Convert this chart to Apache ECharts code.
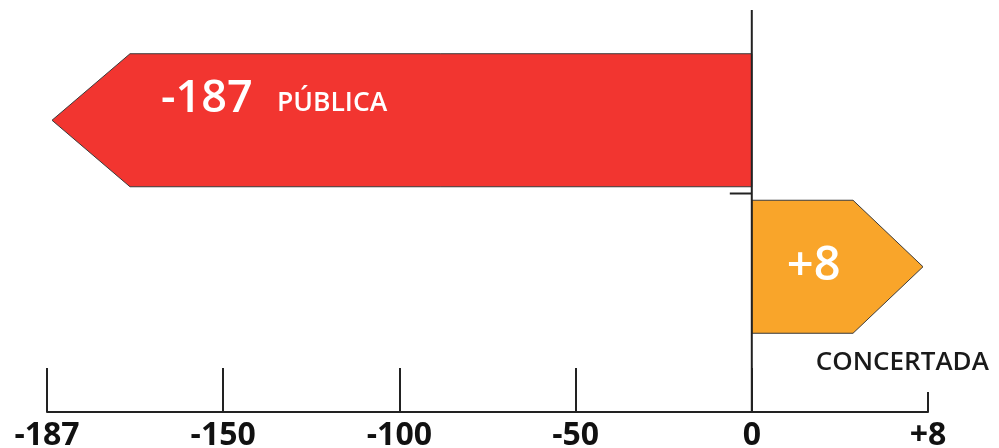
<!DOCTYPE html>
<html>
<head>
<meta charset="utf-8">
<script src="https://cdn.jsdelivr.net/npm/echarts@6/dist/echarts.min.js"></script>
<style>
html,body{margin:0;padding:0;background:#fff;}
#chart{width:999px;height:448px;}
</style>
</head>
<body>
<div id="chart"></div>
<script>
// ---- data ----
const tickValues = [-187, -150, -100, -50, 0, 8];
const tickLabels = ['-187', '-150', '-100', '-50', '0', '+8'];
const categories = ['PÚBLICA', 'CONCERTADA'];
const values = [-187, 8];
const valueLabels = ['-187', '+8'];
const barColors = ['#F23530', '#F9A52A'];

const FONT = '"Open Sans", "Noto Sans", sans-serif';
const zeroIdx = tickValues.indexOf(0);

// map a data value onto the axis (one unit per tick step)
function toAxis(v) {
  for (let i = 0; i < tickValues.length - 1; i++) {
    const a = tickValues[i], b = tickValues[i + 1];
    if (v >= a && v <= b) return i + (v - a) / (b - a) - zeroIdx;
  }
  return v < tickValues[0] ? -zeroIdx : tickValues.length - 1 - zeroIdx;
}
const axisMin = -zeroIdx;
const axisMax = tickValues.length - 1 - zeroIdx;
const tickPos = tickValues.map((v, i) => i - zeroIdx);

const barData = values.map((v, i) => [toAxis(v), i]);

const chart = echarts.init(document.getElementById('chart'));

function renderBar(params, api) {
  const cat = api.value(1);
  const end = api.coord([api.value(0), cat]);
  const zero = api.coord([0, cat]);
  const band = api.size([0, 1])[1];
  const h = band * 0.908;
  const cy = zero[1];
  const top = cy - h / 2, bot = cy + h / 2;
  const dir = end[0] < zero[0] ? -1 : 1;
  const tipX = end[0] - dir * 5;
  const headLen = dir < 0 ? 78 : 70;
  const bodyEnd = tipX - dir * headLen;
  const pts = [[zero[0], top], [bodyEnd, top], [tipX, cy], [bodyEnd, bot], [zero[0], bot]];
  const children = [{
    type: 'polygon',
    shape: { points: pts },
    style: { fill: barColors[params.dataIndex], stroke: '#3a3a3a', lineWidth: 1 }
  }];
  if (dir < 0) {
    children.push({
      type: 'text',
      style: {
        x: bodyEnd + 31, y: top + 45, text: valueLabels[params.dataIndex],
        fill: '#fff', font: '600 45px ' + FONT, align: 'left', verticalAlign: 'middle'
      }
    });
    children.push({
      type: 'text',
      style: {
        x: bodyEnd + 147, y: top + 50, text: categories[params.dataIndex],
        fill: '#fff', font: '600 26.5px ' + FONT, align: 'left', verticalAlign: 'middle'
      }
    });
  } else {
    children.push({
      type: 'text',
      style: {
        x: zero[0] + 35, y: cy, text: valueLabels[params.dataIndex],
        fill: '#fff', font: '600 47px ' + FONT, align: 'left', verticalAlign: 'middle'
      }
    });
    children.push({
      type: 'text',
      style: {
        x: zero[0] + 64, y: bot + 29, text: categories[params.dataIndex],
        fill: '#1a1a1a', font: '600 26px ' + FONT, align: 'left', verticalAlign: 'middle'
      }
    });
  }
  return { type: 'group', children };
}

function renderZeroAxis(params, api) {
  const cs = params.coordSys;
  const z = api.coord([0, 0]);
  const band = api.size([0, 1])[1];
  const mid = z[1] + band / 2;
  return {
    type: 'group',
    children: [
      { type: 'line', shape: { x1: z[0], y1: cs.y - 37, x2: z[0], y2: cs.y + cs.height + 72 },
        style: { stroke: '#222', lineWidth: 2 } },
      { type: 'line', shape: { x1: z[0] - 22, y1: mid, x2: z[0], y2: mid },
        style: { stroke: '#222', lineWidth: 2 } }
    ]
  };
}

const xAxisBase = {
  type: 'value', min: axisMin, max: axisMax, interval: 1,
  position: 'bottom', offset: 72,
  splitLine: { show: false }
};

chart.setOption({
  animation: false,
  grid: { left: 47, right: 71, top: 47, bottom: 108, containLabel: false, outerBoundsMode: 'none' },
  xAxis: [
    Object.assign({}, xAxisBase, {
      axisLine: { show: true, lineStyle: { color: '#222', width: 2 } },
      axisTick: { show: true, inside: true, length: 44, lineStyle: { color: '#222', width: 2 },
        customValues: tickPos.slice(0, tickPos.length - 1) },
      axisLabel: {
        show: true, customValues: tickPos, margin: 8,
        color: '#111', fontSize: 32, fontWeight: 'bold', fontFamily: FONT,
        formatter: (v) => tickLabels[Math.round(v) + zeroIdx]
      }
    }),
    Object.assign({}, xAxisBase, {
      axisLine: { show: false },
      axisTick: { show: true, inside: true, length: 20, lineStyle: { color: '#222', width: 2 },
        customValues: [tickPos[tickPos.length - 1]] },
      axisLabel: { show: false }
    })
  ],
  yAxis: {
    type: 'category', inverse: true, data: categories, show: false
  },
  series: [
    { type: 'custom', renderItem: renderBar, data: barData, clip: false,
      encode: { x: 0, y: 1 }, xAxisIndex: 0, z: 2 },
    { type: 'custom', renderItem: renderZeroAxis, data: [[0, 0]], clip: false,
      encode: { x: 0, y: 1 }, xAxisIndex: 0, z: 3, silent: true }
  ]
});
</script>
</body>
</html>
